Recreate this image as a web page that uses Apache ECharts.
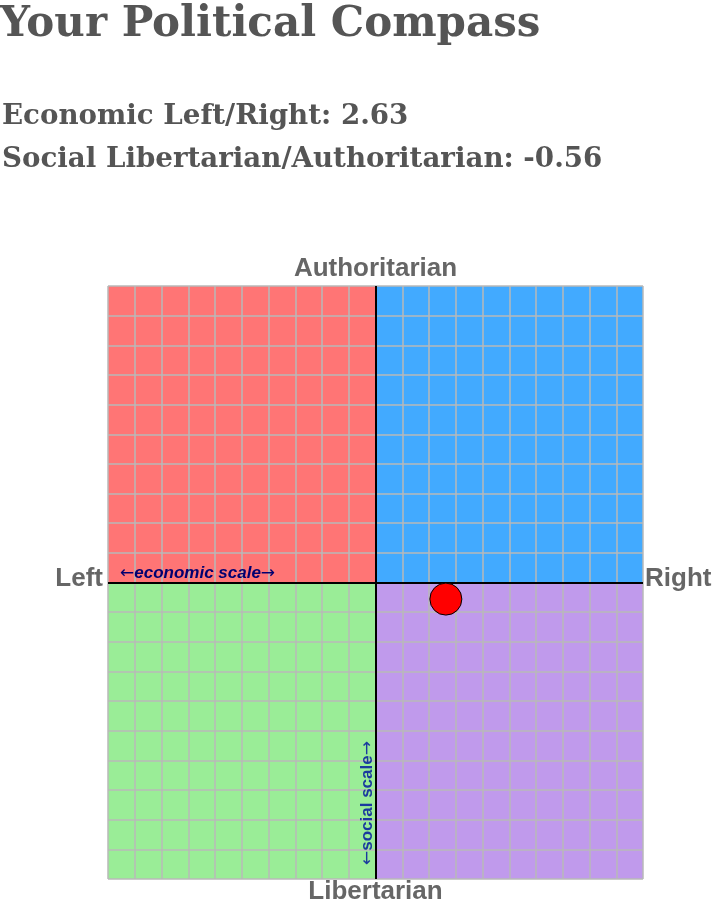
<!DOCTYPE html>
<html>
<head>
<meta charset="utf-8">
<title>Your Political Compass</title>
<script src="https://cdn.jsdelivr.net/npm/echarts@6/dist/echarts.min.js"></script>
<style>
  html, body { margin: 0; padding: 0; background: #fff; }
  #main { width: 721px; height: 912px; }
</style>
</head>
<body>
<div id="main"></div>
<script>
// result of the test
const economicScore = 2.63;
const socialScore = -0.56;

// axis range and tick step (both axes)
const scaleMin = -10;
const scaleMax = 10;
const scaleStep = 1;

// quadrants: [xFrom, xTo], [yFrom, yTo]
const quadrantNames = ['Authoritarian Left', 'Authoritarian Right', 'Libertarian Left', 'Libertarian Right'];
const quadrantX = [[-10, 0], [0, 10], [-10, 0], [0, 10]];
const quadrantY = [[0, 10], [0, 10], [-10, 0], [-10, 0]];
const quadrantColors = ['#ff7575', '#42aaff', '#9aed97', '#c09aec'];

// grid box in pixels
const G = { left: 108, top: 286, width: 535, height: 593 };
const midX = G.left + G.width / 2;
const midY = G.top + G.height / 2;

const labelStyle = {
  fontFamily: '"Liberation Sans", Arial, sans-serif',
  fontWeight: 'bold',
  fontSize: 26,
  fill: '#666'
};

// arrows look longer in the original, so take them from DejaVu Sans
function scaleHint(text, color, italic) {
  return {
    text: '{a|←}' + text + '{a|→}',
    font: (italic ? 'italic ' : '') + 'bold 17px "Liberation Sans", Arial, sans-serif',
    fill: color,
    align: 'left',
    verticalAlign: 'middle',
    rich: {
      a: { fontFamily: '"DejaVu Sans", sans-serif', fontSize: 17, fontWeight: 'normal', fontStyle: 'normal', fill: color }
    }
  };
}

var chartDom = document.getElementById('main');
var myChart = echarts.init(chartDom);
var option;

option = {
  animation: false,
  grid: { left: G.left, top: G.top, width: G.width, height: G.height, show: false },
  xAxis: {
    type: 'value',
    min: scaleMin,
    max: scaleMax,
    interval: scaleStep,
    z: 3,
    axisLine: { show: false },
    axisTick: { show: false },
    axisLabel: { show: false },
    splitLine: { show: true, lineStyle: { color: '#b9b9b9', width: 1.5 } }
  },
  yAxis: {
    type: 'value',
    min: scaleMin,
    max: scaleMax,
    interval: scaleStep,
    z: 3,
    axisLine: { show: false },
    axisTick: { show: false },
    axisLabel: { show: false },
    splitLine: { show: true, lineStyle: { color: '#b9b9b9', width: 1.5 } }
  },
  graphic: [
    {
      type: 'text', left: 0, top: 4,
      style: {
        text: 'Your Political Compass',
        font: 'bold 42px "DejaVu Serif", Georgia, serif',
        fill: '#555'
      }
    },
    {
      type: 'text', left: 2, top: 103,
      style: {
        text: 'Economic Left/Right: ' + economicScore.toFixed(2),
        font: 'bold 27.7px "DejaVu Serif", Georgia, serif',
        fill: '#555'
      }
    },
    {
      type: 'text', left: 2, top: 146,
      style: {
        text: 'Social Libertarian/Authoritarian: ' + socialScore.toFixed(2),
        font: 'bold 27.7px "DejaVu Serif", Georgia, serif',
        fill: '#555'
      }
    },
    // compass labels
    { type: 'text', x: midX, y: G.top - 17,
      style: Object.assign({ text: 'Authoritarian', align: 'center', verticalAlign: 'middle' }, labelStyle) },
    { type: 'text', x: midX, y: G.top + G.height + 13,
      style: Object.assign({ text: 'Libertarian', align: 'center', verticalAlign: 'middle' }, labelStyle) },
    { type: 'text', x: G.left - 5, y: midY - 4,
      style: Object.assign({ text: 'Left', align: 'right', verticalAlign: 'middle' }, labelStyle) },
    { type: 'text', x: G.left + G.width + 2, y: midY - 4,
      style: Object.assign({ text: 'Right', align: 'left', verticalAlign: 'middle' }, labelStyle) },
    // scale hints
    {
      type: 'text', x: G.left + 12, y: midY - 9, z: 20,
      style: scaleHint('economic scale', '#000070', true)
    },
    {
      type: 'text', x: midX - 8, y: G.top + G.height - 14, rotation: Math.PI / 2, z: 20,
      style: scaleHint('social scale', '#1a3a9e', false)
    }
  ],
  series: [
    {
      // quadrant fills
      name: 'quadrants',
      type: 'line',
      data: [],
      z: 1,
      silent: true,
      markArea: {
        z: 1,
        silent: true,
        data: quadrantNames.map((n, i) => [
          { name: n, xAxis: quadrantX[i][0], yAxis: quadrantY[i][0], itemStyle: { color: quadrantColors[i], opacity: 1 } },
          { xAxis: quadrantX[i][1], yAxis: quadrantY[i][1] }
        ]),
        label: { show: false }
      }
    },
    {
      // centre axes
      name: 'axes',
      type: 'line',
      data: [],
      z: 5,
      silent: true,
      markLine: {
        z: 5,
        silent: true,
        symbol: 'none',
        label: { show: false },
        lineStyle: { color: '#000', width: 2, type: 'solid' },
        data: [{ xAxis: 0 }, { yAxis: 0 }]
      }
    },
    {
      name: 'You',
      type: 'scatter',
      z: 10,
      symbolSize: 32,
      itemStyle: { color: '#ff0000', borderColor: '#000', borderWidth: 1, opacity: 1 },
      data: [[economicScore, socialScore]]
    }
  ]
};

option && myChart.setOption(option);
</script>
</body>
</html>
